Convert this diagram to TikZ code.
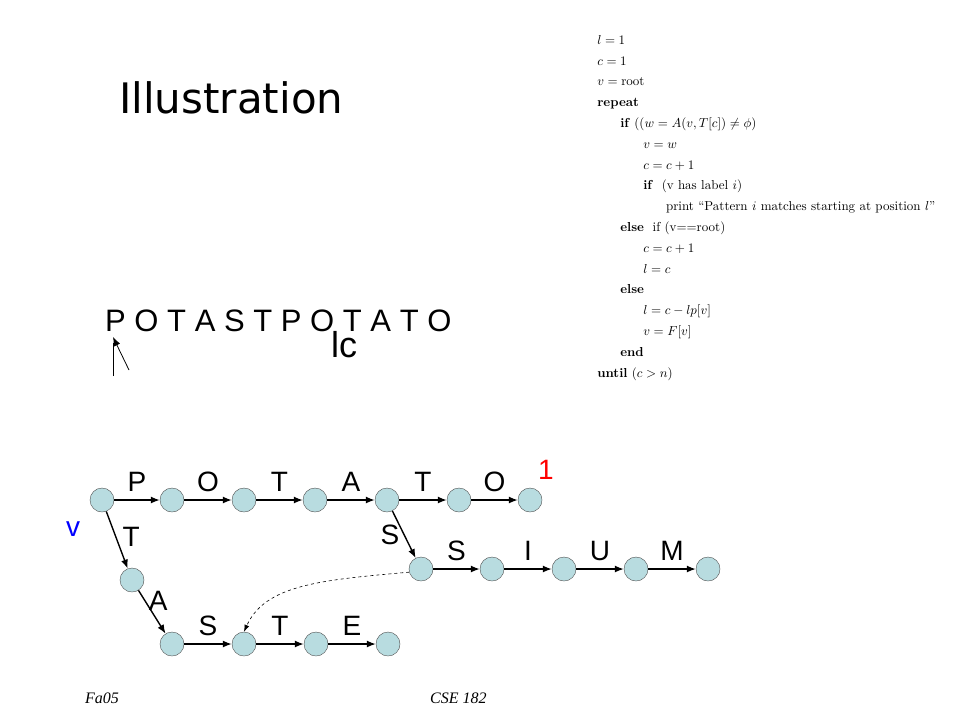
\documentclass[tikz,border=0pt]{standalone}
\usepackage{fontspec}
\newfontfamily\arialfont{Liberation Sans}
\newfontfamily\titlefont{DejaVu Sans}
\newfontfamily\timesfont{Liberation Serif}
\usetikzlibrary{arrows.meta}

\definecolor{trienode}{RGB}{184,220,224}

\tikzset{
	state/.style = {circle, draw = black!70, fill = trienode, minimum size = 24pt, inner sep = 0pt},
	edge/.style = {line width = 1.4pt, -{Latex[length = 9pt, width = 7pt]}},
	lab/.style = {font = \arialfont\fontsize{28}{30}\selectfont, inner sep = 0pt},
}

\begin{document}
\begin{tikzpicture}[x = 1pt, y = -1pt]

	\useasboundingbox (0,0) rectangle (960,720);

	\node[anchor = base west, font = \titlefont\fontsize{42}{44}\selectfont, inner sep = 0pt] (title) at (119,113) {Illustration};

	% the algorithm
	\node[anchor = north west, inner sep = 0pt, scale = 1.3, align = left, font = \fontsize{10}{16}\selectfont] (algo) at (597,35) {%
		$l = 1$\\
		$c = 1$\\
		$v = \mathrm{root}$\\
		\textbf{repeat}\\
		\hspace*{17.7pt}\textbf{if} $((w = A(v,T[c]) \neq \phi)$\\
		\hspace*{35.4pt}$v = w$\\
		\hspace*{35.4pt}$c = c+1$\\
		\hspace*{35.4pt}\textbf{if}\ \ (v has label $i$)\\
		\hspace*{53pt}print ``Pattern $i$ matches starting at position $l$''\\
		\hspace*{17.7pt}\textbf{else}\ \ if (v==root)\\
		\hspace*{35.4pt}$c = c+1$\\
		\hspace*{35.4pt}$l = c$\\
		\hspace*{17.7pt}\textbf{else}\\
		\hspace*{35.4pt}$l = c - lp[v]$\\
		\hspace*{35.4pt}$v = F[v]$\\
		\hspace*{17.7pt}\textbf{end}\\
		\textbf{until} $(c > n)$};

	% the text and its pointers
	\node[anchor = base west, font = \arialfont\fontsize{31}{33}\selectfont, inner sep = 0pt] (text) at (105,331) {P O T A S T P O T A T O};
	\node[anchor = base west, font = \arialfont\fontsize{36}{38}\selectfont, inner sep = 0pt] (lc) at (331,357) {lc};
	\coordinate (lptr) at (113,376);
	\coordinate (cptr) at (129,370);
	\coordinate (ptrtip) at (113,337);
	\draw[line width = 0.8pt] (lptr) -- (113,343);
	\draw[line width = 0.8pt, -{Latex[length = 9pt, width = 7pt]}] (cptr) -- (ptrtip);

	% the trie
	\node[state] (root) at (102,500) {};
	\node[state] (P) at (172,500) {};
	\node[state] (PO) at (244,500) {};
	\node[state] (POT) at (315,500) {};
	\node[state] (POTA) at (387,500) {};
	\node[state] (POTAT) at (459,500) {};
	\node[state] (POTATO) at (530,500) {};

	\node[state] (POTAS) at (421,569) {};
	\node[state] (POTASS) at (492,569) {};
	\node[state] (POTASSI) at (564,569) {};
	\node[state] (POTASSIU) at (636,569) {};
	\node[state] (POTASSIUM) at (708,569) {};

	\node[state] (T) at (132,580) {};
	\node[state] (TA) at (172,644) {};
	\node[state] (TAS) at (244,644) {};
	\node[state] (TAST) at (316,644) {};
	\node[state] (TASTE) at (388,644) {};

	\draw[edge] (root) -- node[lab, above = 8pt]{P} (P);
	\draw[edge] (P) -- node[lab, above = 8pt]{O} (PO);
	\draw[edge] (PO) -- node[lab, above = 8pt]{T} (POT);
	\draw[edge] (POT) -- node[lab, above = 8pt]{A} (POTA);
	\draw[edge] (POTA) -- node[lab, above = 8pt]{T} (POTAT);
	\draw[edge] (POTAT) -- node[lab, above = 8pt]{O} (POTATO);

	\draw[edge] (POTA) -- node[lab, left = 4pt, pos = 0.5]{S} (POTAS);
	\draw[edge] (POTAS) -- node[lab, above = 8pt]{S} (POTASS);
	\draw[edge] (POTASS) -- node[lab, above = 8pt]{I} (POTASSI);
	\draw[edge] (POTASSI) -- node[lab, above = 8pt]{U} (POTASSIU);
	\draw[edge] (POTASSIU) -- node[lab, above = 8pt]{M} (POTASSIUM);

	\draw[edge] (root) -- node[lab, right = 6pt, pos = 0.45]{T} (T);
	\draw[edge] (T) -- node[lab, right = 3pt, pos = 0.25]{A} (TA);
	\draw[edge] (TA) -- node[lab, above = 8pt]{S} (TAS);
	\draw[edge] (TAS) -- node[lab, above = 8pt]{T} (TAST);
	\draw[edge] (TAST) -- node[lab, above = 8pt]{E} (TASTE);

	% failure link
	\draw[dashed, line width = 0.6pt, -{Latex[length = 7pt, width = 5pt]}] (POTAS.195) .. controls (320,580) and (265,585) .. (TAS.north);

	\node[lab, text = red, font = \arialfont\fontsize{28}{30}\selectfont] (match) at (546,470) {1};
	\node[lab, text = blue, font = \arialfont\fontsize{28}{30}\selectfont] (vmark) at (73,529) {v};

	% footer
	\node[anchor = base west, font = \timesfont\itshape\fontsize{16}{18}\selectfont, inner sep = 0pt] (term) at (85,703) {Fa05};
	\node[anchor = base west, font = \timesfont\itshape\fontsize{16}{18}\selectfont, inner sep = 0pt] (course) at (430,703) {CSE 182};

\end{tikzpicture}
\end{document}
